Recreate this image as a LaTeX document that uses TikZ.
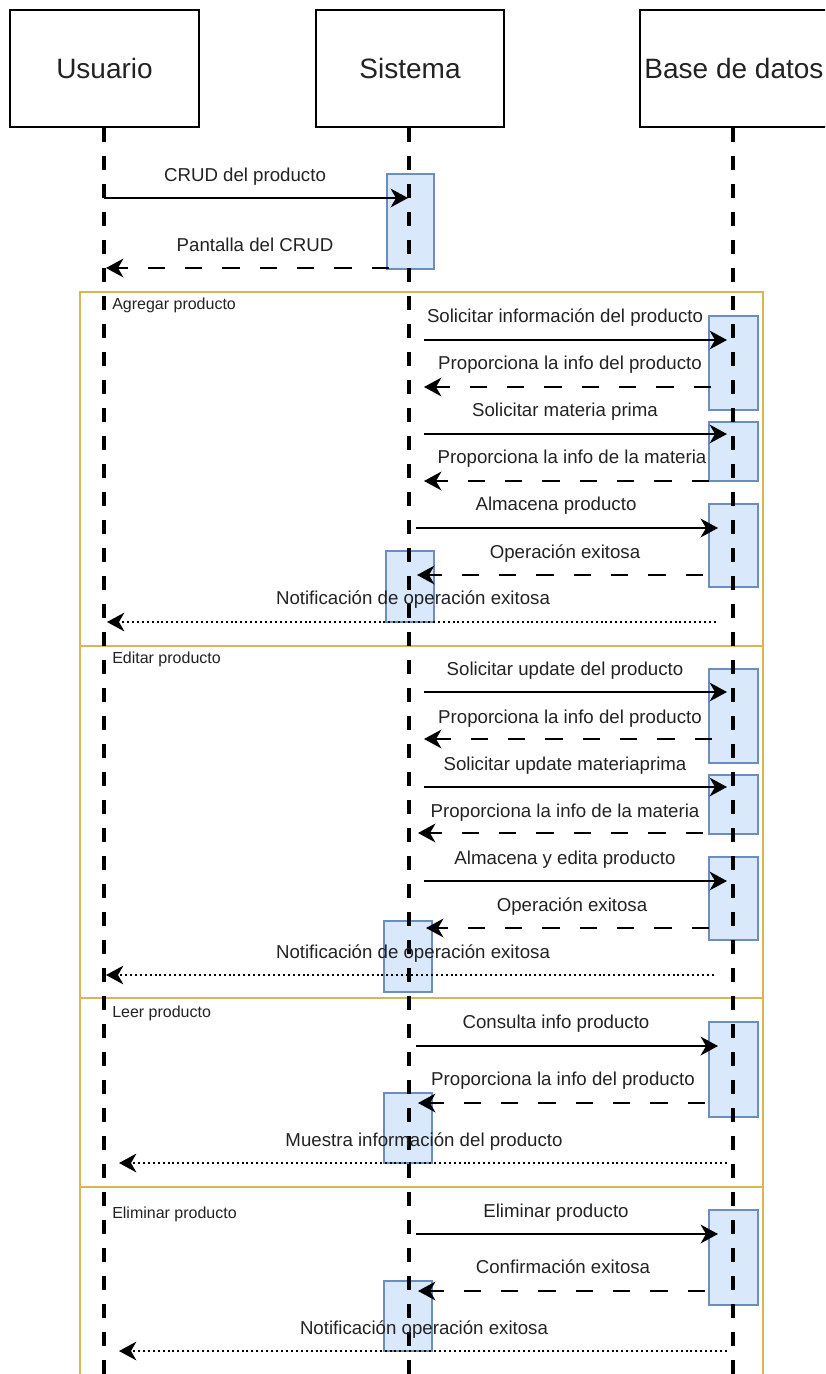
\documentclass[tikz,border=0pt]{standalone}
\usepackage{fontspec}
\setmainfont{Liberation Sans}
\usetikzlibrary{arrows.meta}
\definecolor{actfill}{HTML}{DAE8FC}
\definecolor{actdraw}{HTML}{6C8EBF}
\definecolor{frmcol}{HTML}{D6B656}
\definecolor{txt}{HTML}{222222}
\tikzset{
 hdr/.style={draw=black, line width=1.5pt, minimum width=141.5pt, minimum height=87.75pt, inner sep=0pt, text=txt, font=\fontsize{21}{25}\selectfont},
 act/.style={draw=actdraw, fill=actfill, line width=1.4pt, inner sep=0pt, outer sep=0pt},
 life/.style={line width=2.6pt, dash pattern=on 10.5pt off 10.5pt},
 tipx/.style={-{Stealth[length=13pt,width=14pt,inset=4pt]}},
 sync/.style={tipx, line width=1.9pt},
 reply/.style={tipx, line width=1.9pt, dash pattern=on 13pt off 15pt},
 note/.style={tipx, line width=1.7pt, dash pattern=on 1.5pt off 2.2pt},
 lbl/.style={anchor=base, inner sep=0pt, text=txt, font=\fontsize{14}{17}\selectfont},
 frmlbl/.style={anchor=base west, inner sep=0pt, text=txt, font=\fontsize{12}{14}\selectfont},
 fr/.style={draw=frmcol, line width=1.6pt},
}
\newcommand\actbox[5]{\node[act, minimum width={(#4-#2)*0.75pt}, minimum height={(#5-#3)*0.75pt}] (#1) at ({(#2+#4)/2},{(#3+#5)/2}) {};}
\newcommand\msg[8]{%
 \coordinate (#2s) at (#3,#5);
 \coordinate (#2e) at (#4,#5);
 \draw[#1] (#2s) -- (#2e);
 \node[lbl] (#2l) at (#6,#7+6.7) {#8};}
\begin{document}
\begin{tikzpicture}[x=0.75pt, y=-0.75pt]
\useasboundingbox (0,0) rectangle (825,1374);
\clip (0,0) rectangle (825,1374);
% headers
\node[hdr] (usr) at (104.5,68.5) {Usuario};
\node[hdr] (sys) at (410,68.5) {Sistema};
\node[hdr] (db) at (734,68.5) {Base de datos};
% frames
\draw[fr] (80,292) rectangle (763,646);
\draw[fr] (80,646) rectangle (763,998);
\draw[fr] (80,998) rectangle (763,1187);
\draw[fr] (80,1187) rectangle (763,1420);
\node[frmlbl] (f1) at (112,309) {Agregar producto};
\node[frmlbl] (f2) at (112,663) {Editar producto};
\node[frmlbl] (f3) at (112,1017) {Leer producto};
\node[frmlbl] (f4) at (112,1218) {Eliminar producto};
% activations
\actbox{s0}{387}{174}{434}{269}
\actbox{ad1}{709}{316}{758}{410}
\actbox{ad2}{709}{422}{758}{481}
\actbox{ad3}{709}{504}{758}{587}
\actbox{as}{386}{551}{434}{622}
\actbox{ed1}{709}{669}{758}{763}
\actbox{ed2}{709}{775}{758}{834}
\actbox{ed3}{709}{857}{758}{940}
\actbox{es}{384}{921}{432}{992}
\actbox{ld}{709}{1022}{758}{1117}
\actbox{ls}{384}{1093}{432}{1163}
\actbox{dd}{709}{1210}{758}{1305}
\actbox{ds}{384}{1281}{432}{1351}
% lifelines
\coordinate (usrB) at (104,1380);
\coordinate (sysB) at (409,1380);
\coordinate (dbB) at (733,1380);
\draw[life] (usr.south -| usrB) -- (usrB);
\draw[life] (sys.south -| sysB) -- (sysB);
\draw[life] (db.south -| dbB) -- (dbB);
% messages
\msg{sync}{m1}{104}{408}{198}{245}{175}{CRUD del producto}
\msg{reply}{m2}{389}{106}{268}{255}{245}{Pantalla del CRUD}
\msg{sync}{a1}{424}{727}{340}{565}{316}{Solicitar información del producto}
\msg{reply}{a2}{711}{424}{387}{570}{363}{Proporciona la info del producto}
\msg{sync}{a3}{424}{727}{434}{565}{410}{Solicitar materia prima}
\msg{reply}{a4}{709}{424}{481}{572}{457}{Proporciona la info de la materia}
\msg{sync}{a5}{416}{718}{528}{556}{504}{Almacena producto}
\msg{reply}{a6}{703}{417}{575}{565}{552}{Operación exitosa}
\msg{note}{a7}{716}{107}{622}{413}{598}{Notificación de operación exitosa}
\msg{sync}{e1}{424}{727}{692}{565}{669}{Solicitar update del producto}
\msg{reply}{e2}{712}{424}{739}{570}{717}{Proporciona la info del producto}
\msg{sync}{e3}{424}{727}{787}{565}{764}{Solicitar update materiaprima}
\msg{reply}{e4}{703}{418}{833}{565}{811}{Proporciona la info de la materia}
\msg{sync}{e5}{424}{727}{881}{565}{858}{Almacena y edita producto}
\msg{reply}{e6}{709}{426}{928}{572}{905}{Operación exitosa}
\msg{note}{e7}{714}{106}{975}{413}{952}{Notificación de operación exitosa}
\msg{sync}{l1}{416}{718}{1046}{556}{1022}{Consulta info producto}
\msg{reply}{l2}{705}{418}{1103}{563}{1079}{Proporciona la info del producto}
\msg{note}{l3}{727}{119}{1163}{424}{1140}{Muestra información del producto}
\msg{sync}{d1}{416}{718}{1234}{556}{1211}{Eliminar producto}
\msg{reply}{d2}{705}{418}{1291}{563}{1267}{Confirmación exitosa}
\msg{note}{d3}{727}{119}{1351}{424}{1328}{Notificación operación exitosa}
\end{tikzpicture}
\end{document}
